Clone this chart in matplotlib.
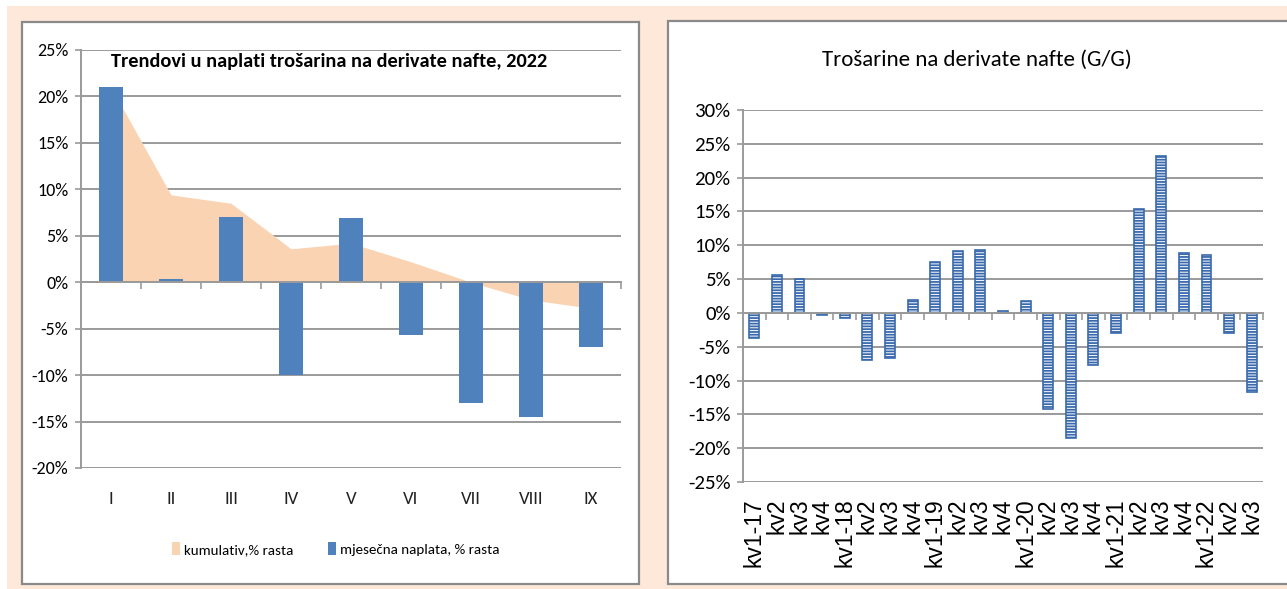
import matplotlib
matplotlib.use("Agg")
import matplotlib.pyplot as plt
from matplotlib.patches import Rectangle

# data
months = ["I", "II", "III", "IV", "V", "VI", "VII", "VIII", "IX"]
mjesecna = [21.0, 0.3, 7.0, -10.0, 6.9, -5.7, -13.0, -14.5, -7.0]
kumulativ = [21.0, 9.4, 8.5, 3.6, 4.2, 2.2, 0.0, -1.9, -2.8]

quarters = ["kv1-17", "kv2", "kv3", "kv4",
            "kv1-18", "kv2", "kv3", "kv4",
            "kv1-19", "kv2", "kv3", "kv4",
            "kv1-20", "kv2", "kv3", "kv4",
            "kv1-21", "kv2", "kv3", "kv4",
            "kv1-22", "kv2", "kv3"]
gg = [-3.7, 5.6, 5.0, -0.3,
      -0.7, -6.9, -6.7, 1.9,
      7.6, 9.2, 9.3, 0.3,
      1.8, -14.2, -18.5, -7.7,
      -2.9, 15.3, 23.2, 8.9,
      8.6, -2.9, -11.7]

W, H = 1287, 589
CAL = ["Carlito", "DejaVu Sans"]
ARIAL = ["Liberation Sans", "DejaVu Sans"]
BLUE = "#4f81bd"
PEACH = "#fad3b2"
GRID = "#9a9a9a"

plt.rcParams["hatch.linewidth"] = 1.3
fig = plt.figure(figsize=(W / 100, H / 100), dpi=100, facecolor="white")


def frac(x0, y0, x1, y1):
    # pixel box (top-left origin) -> figure fraction rect
    return [x0 / W, 1 - y1 / H, (x1 - x0) / W, (y1 - y0) / H]


def box(x0, y0, x1, y1, z, **kw):
    l, b, w, h = frac(x0, y0, x1, y1)
    fig.patches.append(Rectangle((l, b), w, h, transform=fig.transFigure,
                                 zorder=z, **kw))


box(7, 6, W, H, -3, facecolor="#fde8da", edgecolor="none")
box(22, 22, 639, 584, -2, facecolor="white", edgecolor="#8a8a8a", lw=1.6)
box(668, 21, W + 5, 584, -2, facecolor="white", edgecolor="#8a8a8a", lw=1.6)


def style_axes(ax, n, ylo, yhi, ysize):
    ax.set_facecolor("none")
    ax.set_xlim(-0.5, n - 0.5)
    ax.set_ylim(ylo, yhi)
    ax.set_yticks(range(ylo, yhi + 1, 5))
    ax.set_yticklabels([f"{v}%" for v in range(ylo, yhi + 1, 5)],
                       fontfamily=CAL, fontsize=ysize)
    ax.grid(axis="y", color=GRID, lw=1.4)
    ax.set_axisbelow(True)
    for s in ["top", "right"]:
        ax.spines[s].set_visible(False)
    ax.spines["left"].set_color(GRID)
    ax.spines["left"].set_linewidth(1.4)
    ax.spines["bottom"].set_position(("data", 0))
    ax.spines["bottom"].set_color(GRID)
    ax.spines["bottom"].set_linewidth(1.4)
    ax.set_xticks([i + 0.5 for i in range(n - 1)] + [n - 0.5])
    ax.set_xticklabels([])
    ax.tick_params(axis="x", length=5, color=GRID, width=1.2, direction="out")
    ax.tick_params(axis="y", length=4, color=GRID, width=1.2, pad=5)


# left chart
ax1 = fig.add_axes(frac(81, 50, 621, 468))
style_axes(ax1, len(months), -20, 25, 13)
x1 = list(range(len(months)))
area = ax1.fill_between(x1, kumulativ, 0, color=PEACH, lw=0, zorder=1,
                        label="kumulativ,% rasta")
bars = ax1.bar(x1, mjesecna, width=0.41, color=BLUE, zorder=2,
               label="mjesečna naplata, % rasta")
for i, m in enumerate(months):
    ax1.text(i, -23.3, m, ha="center", va="center", fontfamily=CAL,
             fontsize=13.5, color="#222222")
fig.text(111 / W, 1 - 61 / H,
         "Trendovi u naplati trošarina na derivate nafte, 2022",
         ha="left", va="center", fontfamily=CAL, fontweight="bold",
         fontsize=14.7)
fig.legend(handles=[area, bars], loc="center",
           bbox_to_anchor=(336 / W, 1 - 549 / H), ncol=2, frameon=False,
           prop={"family": CAL, "size": 10.8}, handlelength=0.5,
           handleheight=0.9, handletextpad=0.3, columnspacing=2.3)

# right chart
ax2 = fig.add_axes(frac(743, 110, 1263, 482))
style_axes(ax2, len(quarters), -25, 30, 15)
x2 = list(range(len(quarters)))
ax2.bar(x2, gg, width=0.44, facecolor="white", edgecolor="#3a6aad",
        hatch="------", lw=1.2, zorder=2)
for i, q in enumerate(quarters):
    ax2.text(i, -27.4, q, ha="center", va="top", rotation=90,
             fontfamily=ARIAL, fontsize=16.5)
fig.text(977 / W, 1 - 60 / H, "Trošarine na derivate nafte (G/G)",
         ha="center", va="center", fontfamily=CAL, fontsize=16.5)

fig.savefig("out.png", dpi=100, facecolor=fig.get_facecolor())
